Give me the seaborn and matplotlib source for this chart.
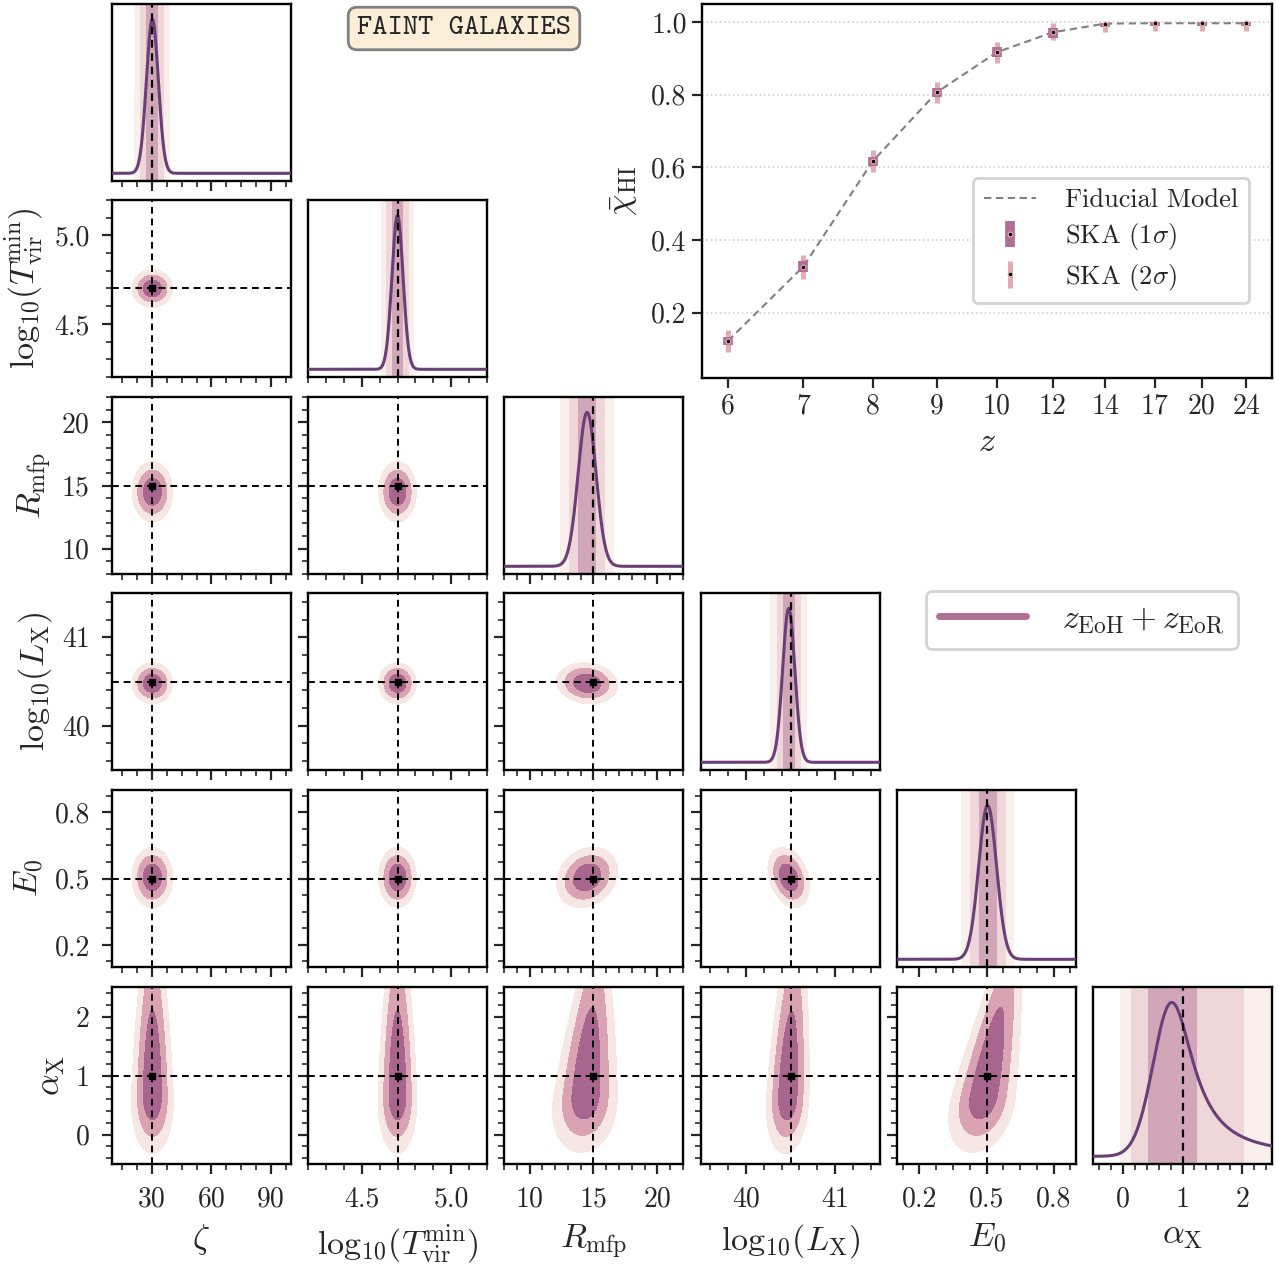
import numpy as np
import matplotlib
matplotlib.use("Agg")
import matplotlib.pyplot as plt
import seaborn as sns
from matplotlib.ticker import AutoMinorLocator
from matplotlib.lines import Line2D

# ------------------------------------------------------------------ data
param_labels = [r'$\zeta$', r'$\mathrm{log}_{10}(T_{\rm vir}^{\rm min})$', r'$R_{\rm mfp}$',
                r'$\mathrm{log}_{10}(L_{\rm X})$', r'$E_0$', r'$\alpha_{\rm X}$']
fiducial = [30.0, 4.7, 15.0, 40.5, 0.5, 1.0]
post_mean = [30.3, 4.70, 14.5, 40.48, 0.505]
post_sigma = [3.0, 0.031, 0.7, 0.068, 0.04]
pair_corr = {(2, 4): 0.2, (3, 4): -0.3, (2, 3): -0.1}
axis_lims = [(10, 100), (4.2, 5.2), (8, 22), (39.5, 41.5), (0.1, 0.9), (-0.5, 2.5)]
axis_ticks = [[30, 60, 90], [4.5, 5.0], [10, 15, 20], [40, 41], [0.2, 0.5, 0.8], [0, 1, 2]]
tick_text = [['30', '60', '90'], ['4.5', '5.0'], ['10', '15', '20'], ['40', '41'],
             ['0.2', '0.5', '0.8'], ['0', '1', '2']]

# alpha_X 1D marginal: peak, left gaussian width, right lorentzian width, 1/2/3 sigma intervals
alpha_peak_1d = 0.82
alpha_left_1d = 0.31
alpha_right_1d = 0.45
alpha_bands = [(0.43, 1.24), (0.13, 2.03), (-0.05, 2.7)]
# alpha_X in the joint panels: peak, lower width, upper width
alpha_peak_2d = 0.68
alpha_low_2d = 0.30
alpha_up_2d = 0.9
# x-parameter dependence on alpha_X (shift per unit alpha, width trend per unit alpha)
alpha_shift = [0.0, 0.0, 0.35, 0.03, 0.05]
alpha_width_trend = [-0.12, -0.12, -0.2, -0.1, -0.2]

# neutral fraction panel
z_labels = ['6', '7', '8', '9', '10', '12', '14', '17', '20', '24']
xhi_values = [0.122, 0.327, 0.617, 0.807, 0.917, 0.972, 0.996, 0.997, 0.997, 0.997]
err1_low = [0.012, 0.014, 0.013, 0.013, 0.014, 0.015, 0.008, 0.008, 0.008, 0.008]
err1_up = [0.012, 0.014, 0.013, 0.013, 0.014, 0.012, 0.003, 0.003, 0.003, 0.003]
err2_low = [0.030, 0.033, 0.031, 0.029, 0.029, 0.020, 0.022, 0.022, 0.022, 0.022]
err2_up = [0.030, 0.033, 0.031, 0.029, 0.029, 0.026, 0.003, 0.003, 0.003, 0.003]

# ------------------------------------------------------------------ style
sns.set_style("ticks")
plt.rcParams.update({
    'font.family': 'serif',
    'font.serif': ['cmr10', 'DejaVu Serif'],
    'mathtext.fontset': 'cm',
    'axes.unicode_minus': False,
    'axes.formatter.use_mathtext': True,
    'axes.linewidth': 1.7,
    'axes.edgecolor': 'black',
})

C_LINE = '#6a3f75'
C2D = ['#f6e7e4', '#d9a3b4', '#a8668f']       # 3sig, 2sig, 1sig fills
CBAND = ['#f9efed', '#efd6d9', '#d1a6b9']     # 3sig, 2sig, 1sig bands
FRACS = [0.997, 0.95, 0.68]
TICK_FS = 20
LABEL_FS = 24.5

W, H = 1278, 1264
fig = plt.figure(figsize=(W / 100, H / 100), dpi=100)


def px_axes(left, top, w, h):
    return fig.add_axes([left / W, 1 - (top + h) / H, w / W, h / H])


col_left = [112, 308, 504, 701, 897, 1093]
row_top = [4, 200, 397, 593, 790, 987]
PW, PH = 179, 177


def style_ticks(ax, diag):
    ax.tick_params(which='major', direction='out', length=7, width=1.6, labelsize=TICK_FS,
                   top=False, right=False, pad=9)
    ax.tick_params(which='minor', direction='out', length=4, width=1.2,
                   top=False, right=False)
    ax.xaxis.set_minor_locator(AutoMinorLocator())
    if not diag:
        ax.yaxis.set_minor_locator(AutoMinorLocator())


def hpd_levels(dens):
    flat = np.sort(dens.ravel())[::-1]
    cum = np.cumsum(flat)
    cum /= cum[-1]
    return [flat[min(np.searchsorted(cum, f), len(flat) - 1)] for f in FRACS]


def gauss_pair(i, j):
    mx, my = post_mean[i], post_mean[j]
    sx, sy = post_sigma[i], post_sigma[j]
    r = pair_corr.get((i, j), 0.0)
    xs = np.linspace(mx - 7 * sx, mx + 7 * sx, 300)
    ys = np.linspace(my - 7 * sy, my + 7 * sy, 300)
    XX, YY = np.meshgrid(xs, ys)
    u = (XX - mx) / sx
    v = (YY - my) / sy
    D = np.exp(-0.5 * (u ** 2 - 2 * r * u * v + v ** 2) / (1 - r ** 2))
    return XX, YY, D


def alpha_pair(i):
    mx, sx = post_mean[i], post_sigma[i]
    ys = np.linspace(-3.0, 7.0, 500)
    xs = np.linspace(mx - 10 * sx, mx + 10 * sx, 300)
    XX, YY = np.meshgrid(xs, ys)
    pa = np.where(YY < alpha_peak_2d,
                  np.exp(-0.5 * ((YY - alpha_peak_2d) / alpha_low_2d) ** 2),
                  np.exp(-0.5 * ((YY - alpha_peak_2d) / alpha_up_2d) ** 2))
    centre = mx + alpha_shift[i] * (YY - fiducial[5])
    width = sx * np.clip(1 + alpha_width_trend[i] * (YY - fiducial[5]), 0.4, 2.0)
    D = pa / width * np.exp(-0.5 * ((XX - centre) / width) ** 2)
    return XX, YY, D


def marginal(i, xs):
    if i < 5:
        return np.exp(-0.5 * ((xs - post_mean[i]) / post_sigma[i]) ** 2)
    d = xs - alpha_peak_1d
    return np.where(d < 0, np.exp(-0.5 * (d / alpha_left_1d) ** 2),
                    1.0 / (1.0 + (d / alpha_right_1d) ** 2))


def bands(i):
    if i < 5:
        return [(post_mean[i] - k * post_sigma[i], post_mean[i] + k * post_sigma[i]) for k in (3, 2, 1)]
    return alpha_bands[::-1]


for j in range(6):
    for i in range(j + 1):
        ax = px_axes(col_left[i], row_top[j], PW, PH)
        diag = (i == j)
        if diag:
            for (lo, hi), c in zip(bands(i), CBAND):
                ax.axvspan(lo, hi, color=c, lw=0, zorder=0)
            xs = np.linspace(axis_lims[i][0], axis_lims[i][1], 600)
            sns.lineplot(x=xs, y=marginal(i, xs), ax=ax, color=C_LINE, lw=2.2, zorder=3)
            ax.axvline(fiducial[i], color='k', ls=(0, (3.5, 2.5)), lw=1.6, zorder=4)
            ax.set_ylim(-0.05, 1.1)
            ax.set_yticks([])
        else:
            XX, YY, D = alpha_pair(i) if j == 5 else gauss_pair(i, j)
            lv = hpd_levels(D)
            ax.contourf(XX, YY, D, levels=lv + [D.max() * 1.01], colors=C2D, zorder=1)
            ax.axvline(fiducial[i], color='k', ls=(0, (3.5, 2.5)), lw=1.4, zorder=4)
            ax.axhline(fiducial[j], color='k', ls=(0, (3.5, 2.5)), lw=1.4, zorder=4)
            ax.plot([fiducial[i]], [fiducial[j]], marker='s', color='k', ms=5, zorder=5)
            ax.set_ylim(axis_lims[j])
            ax.set_yticks(axis_ticks[j], tick_text[j])
            if i == 0:
                ax.set_ylabel(param_labels[j], fontsize=LABEL_FS, labelpad=6)
            else:
                ax.tick_params(labelleft=False)
        ax.set_xlim(axis_lims[i])
        ax.set_xticks(axis_ticks[i], tick_text[i])
        if j == 5:
            ax.set_xlabel(param_labels[i], fontsize=LABEL_FS, labelpad=7)
        else:
            ax.tick_params(labelbottom=False)
        style_ticks(ax, diag)

# ------------------------------------------------------------------ neutral fraction inset
axi = px_axes(702, 4, 570, 374)
idx = np.arange(len(z_labels))
fwd = lambda t: np.log(np.asarray(t, dtype=float) + 11.0)
inv = lambda s: np.exp(s) - 11.0
axi.set_xscale('function', functions=(fwd, inv))
sns.lineplot(x=idx, y=xhi_values, ax=axi, color='#808080', lw=1.5,
             linestyle=(0, (3.5, 2.2)), zorder=2, legend=False)
e2 = axi.errorbar(idx, xhi_values, yerr=[err2_low, err2_up], fmt='o', ms=3.4,
                  mfc='k', mec='#e7b4bb', mew=0.8, ecolor='#e3abb3', elinewidth=3.6,
                  capsize=0, zorder=3)
e1 = axi.errorbar(idx, xhi_values, yerr=[err1_low, err1_up], fmt='o', ms=3.4,
                  mfc='k', mec='#e7b4bb', mew=0.8, ecolor='#b06f95', elinewidth=7,
                  capsize=0, zorder=4)
t0, t9 = fwd(0), fwd(len(z_labels) - 1)
span = t9 - t0
axi.set_xlim(inv(t0 - 0.05 * span), inv(t9 + 0.05 * span))
axi.set_xticks(idx, z_labels)
axi.set_ylim(0.02, 1.05)
axi.set_yticks([0.2, 0.4, 0.6, 0.8, 1.0], ['0.2', '0.4', '0.6', '0.8', '1.0'])
axi.yaxis.grid(True, ls=':', color='#cfcfcf', lw=1.2)
axi.xaxis.grid(False)
axi.tick_params(which='major', direction='out', length=7, width=1.6, labelsize=TICK_FS,
                top=False, right=False, pad=4)
axi.tick_params(which='minor', bottom=False, left=False)
axi.set_xlabel(r'$z$', fontsize=LABEL_FS, labelpad=6)
axi.set_ylabel(r'$\bar{\chi}_{\rm HI}$', fontsize=LABEL_FS, labelpad=8)
fid_handle = Line2D([], [], color='#808080', lw=1.5, linestyle=(0, (3.5, 2.2)))
leg = axi.legend([fid_handle, e1, e2], ['Fiducial Model', r'SKA ($1\sigma$)', r'SKA ($2\sigma$)'],
                 loc='lower right', bbox_to_anchor=(0.96, 0.2), borderaxespad=0,
                 fontsize=19, frameon=True, fancybox=True, framealpha=1,
                 handletextpad=1.1, labelspacing=0.35)
leg.get_frame().set_edgecolor('#d3d3d3')
leg.get_frame().set_linewidth(2)

# ------------------------------------------------------------------ figure legend and title box
fl = fig.legend([Line2D([], [], color='#b07094', lw=5)], [r'$z_{\rm EoH} + z_{\rm EoR}$'],
                loc='upper right', bbox_to_anchor=(1238 / W, 1 - 591 / H), borderaxespad=0,
                fontsize=24, frameon=True, fancybox=True, framealpha=1,
                handlelength=2.6, handletextpad=1.1, borderpad=0.4)
fl.get_frame().set_edgecolor('#d3d3d3')
fl.get_frame().set_linewidth(2)

fig.text(464 / W, 1 - 28.5 / H, 'FAINT GALAXIES', family='cmtt10', fontsize=21,
         ha='center', va='center',
         bbox=dict(boxstyle='round,pad=0.3', fc='#faeed9', ec='#808080', lw=2))

fig.savefig('out.png', dpi=100)
